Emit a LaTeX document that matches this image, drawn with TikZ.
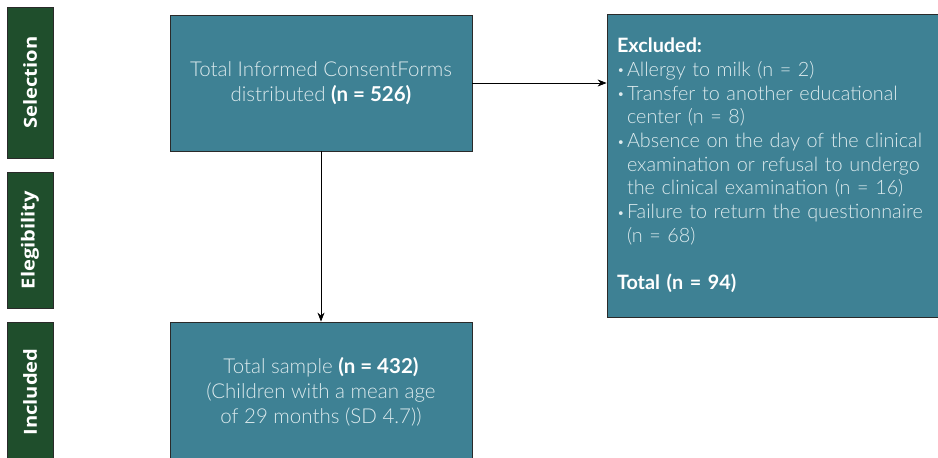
\documentclass[tikz,border=0pt]{standalone}
\usepackage{fontspec}
\setmainfont{Lato Light}[BoldFont={Lato Bold}]
\newfontfamily\stagefont{Open Sans}
\usetikzlibrary{positioning, arrows.meta}
\definecolor{stagegreen}{HTML}{1F4E2C}
\definecolor{boxteal}{HTML}{3E8194}
\definecolor{boxtext}{HTML}{DDEBEE}
\definecolor{edgegray}{HTML}{2A2A2A}
\newcommand{\bul}{\makebox[10pt][l]{\raisebox{1.5pt}{\fontsize{13}{13}\selectfont\textbullet}}}
\newcommand{\hang}{\hspace*{10pt}}

\tikzset{
  stage/.style={draw=edgegray, fill=stagegreen, thick, rotate=90,
    text=white, font=\stagefont\fontsize{18}{21}\selectfont\bfseries, inner sep=0pt},
  flowbox/.style={draw=edgegray, fill=boxteal, thick, text=boxtext,
    font=\fontsize{20.5}{25}\selectfont, align=center, inner sep=0pt},
  flowline/.style={draw=black, thick, -{Stealth[length=9pt, width=7pt]}}
}

\begin{document}
\begin{tikzpicture}[x=1pt, y=-1pt]
    \useasboundingbox (0,0) rectangle (938,458);
    % Etapas
    \node[stage, minimum width=151pt, minimum height=46pt] (selection) at (30,82.5) {\scalebox{1.12}[1]{Selection}};
    \node[stage, minimum width=136pt, minimum height=46pt] (elegibility) at (30,240) {\scalebox{1.12}[1]{Elegibility}};
    \node[stage, minimum width=140pt, minimum height=46pt] (included) at (30,392) {\scalebox{1.12}[1]{Included}};
    % Caixas do fluxo
    \node[flowbox, minimum width=302pt, minimum height=136pt] (consent) at (321,83)
      {Total Informed ConsentForms\\distributed \textcolor{white}{\textbf{(n = 526)}}};
    \node[flowbox, minimum width=302pt, minimum height=140pt] (sample) at (321,392)
      {Total sample \textcolor{white}{\textbf{(n = 432)}}\\(Children with a mean age\\of 29 months (SD 4.7))};
    \node[flowbox, minimum width=331pt, minimum height=303pt, text width=311pt,
      align=left, font=\fontsize{19.8}{23.7}\selectfont] (excluded) at (772.5,165.5)
      {\textcolor{white}{\textbf{Excluded:}}\\
       \bul Allergy to milk (n = 2)\\
       \bul Transfer to another educational\\
       \hang center (n = 8)\\
       \bul Absence on the day of the clinical\\
       \hang examination or refusal to undergo\\
       \hang the clinical examination (n = 16)\\
       \bul Failure to return the questionnaire\\
       \hang (n = 68)\\[23.7pt]
       \textcolor{white}{\textbf{Total (n = 94)}}};
    % Setas
    \draw[flowline] (consent.east) -- (excluded.west |- consent.east);
    \draw[flowline] (consent.south) -- (sample.north);
\end{tikzpicture}
\end{document}
